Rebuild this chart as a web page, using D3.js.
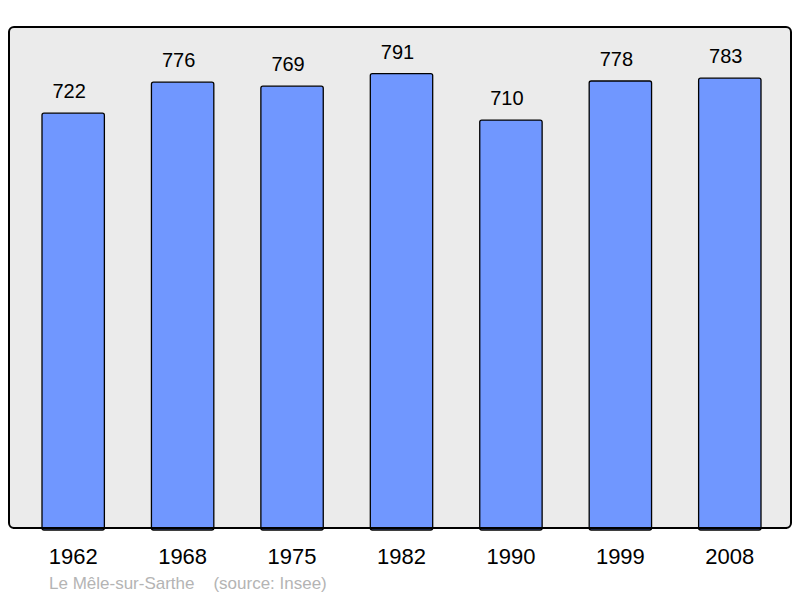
<!DOCTYPE html>
<html>
<head>
<meta charset="utf-8">
<script src="https://cdn.jsdelivr.net/npm/d3@7"></script>
<style>
  body { margin: 0; background: #fff; }
  text { font-family: "Liberation Sans", Arial, sans-serif; }
</style>
</head>
<body>
<div id="chart"></div>
<script>
// Data
const years = ["1962", "1968", "1975", "1982", "1990", "1999", "2008"];
const population = [722, 776, 769, 791, 710, 778, 783];
const caption = "Le Mêle-sur-Sarthe    (source: Insee)";

const width = 800;
const height = 598;
const panel = { left: 9, top: 27, right: 791, bottom: 528 };

const svg = d3.select("#chart").append("svg")
    .attr("width", width)
    .attr("height", height)
    .attr("viewBox", `0 0 ${width} ${height}`);

// Scales
const x = d3.scaleBand()
    .domain(years)
    .range([42, 761])
    .paddingInner(0.43)
    .paddingOuter(0);

const y = d3.scaleLinear()
    .domain([0, 872])
    .range([panel.bottom, panel.top]);

// Background panel
svg.append("rect")
    .attr("x", panel.left)
    .attr("y", panel.top)
    .attr("width", panel.right - panel.left)
    .attr("height", panel.bottom - panel.top)
    .attr("rx", 5)
    .attr("fill", "#ebebeb")
    .attr("stroke", "#000")
    .attr("stroke-width", 2);

// Bars
svg.append("g")
    .selectAll("rect")
    .data(population)
    .join("rect")
    .attr("x", (d, i) => x(years[i]))
    .attr("y", d => y(d))
    .attr("width", x.bandwidth())
    .attr("height", d => y(0) - y(d) + 2)
    .attr("rx", 2)
    .attr("fill", "#7097ff")
    .attr("stroke", "#000")
    .attr("stroke-width", 1.3);

// Redraw bottom edge of the panel over the bars
svg.append("line")
    .attr("x1", panel.left + 4)
    .attr("x2", panel.right - 4)
    .attr("y1", panel.bottom)
    .attr("y2", panel.bottom)
    .attr("stroke", "#000")
    .attr("stroke-width", 2);

// Value labels (sit slightly left of the bar centre)
svg.append("g")
    .selectAll("text")
    .data(population)
    .join("text")
    .attr("x", (d, i) => x(years[i]) + x.bandwidth() / 2 - 4)
    .attr("y", d => y(d) - 15)
    .attr("text-anchor", "middle")
    .attr("font-size", 20)
    .attr("fill", "#000")
    .text(d => d);

// Year labels
svg.append("g")
    .selectAll("text")
    .data(years)
    .join("text")
    .attr("x", d => x(d) + x.bandwidth() / 2)
    .attr("y", 564)
    .attr("text-anchor", "middle")
    .attr("font-size", 22)
    .attr("fill", "#000")
    .text(d => d);

// Caption
svg.append("text")
    .attr("x", 49)
    .attr("y", 589)
    .attr("font-size", 17)
    .attr("fill", "#b4b4b4")
    .attr("xml:space", "preserve")
    .style("white-space", "pre")
    .text(caption);
</script>
</body>
</html>
